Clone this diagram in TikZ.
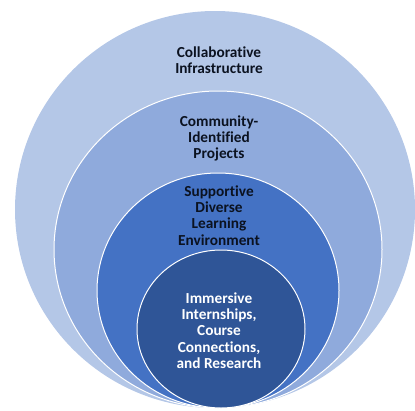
\documentclass[tikz,border=0pt]{standalone}
\usepackage{fontspec}
\setmainfont{Carlito}[Ligatures=NoCommon]
\definecolor{ringA}{HTML}{B4C7E7}
\definecolor{ringB}{HTML}{8FAADC}
\definecolor{ringC}{HTML}{4472C4}
\definecolor{ringD}{HTML}{2F5597}
\definecolor{txtdark}{HTML}{0B1220}
\begin{document}
\begin{tikzpicture}[x=1pt,y=-1pt,
  ring/.style={draw=white,line width=1pt},
  lbl/.style={align=center,font=\fontsize{15.3}{16.3}\selectfont\bfseries,text=txtdark,inner sep=0pt}]
\useasboundingbox (0,0) rectangle (415,410);
\begin{scope}
\clip (0,0) rectangle (415,410);
\fill[ringA] (215,209.5) ellipse [x radius=200,y radius=198.5];
\draw[ring,fill=ringB] (218,249.5) ellipse [x radius=164,y radius=158.5];
\draw[ring,fill=ringC] (218,290.5) ellipse [x radius=121,y radius=117.5];
\draw[ring,fill=ringD] (221,329) ellipse [x radius=84,y radius=79];
\end{scope}
\node[lbl] (t1) at (219,60) {Collaborative\\Infrastructure};
\node[lbl] (t2) at (219,138.5) {Community-\\Identified\\Projects};
\node[lbl] (t3) at (219,215.5) {Supportive\\Diverse\\Learning\\Environment};
\node[lbl,text=white] (t4) at (219,330.5) {Immersive\\Internships,\\Course\\Connections,\\and Research};
\end{tikzpicture}
\end{document}
